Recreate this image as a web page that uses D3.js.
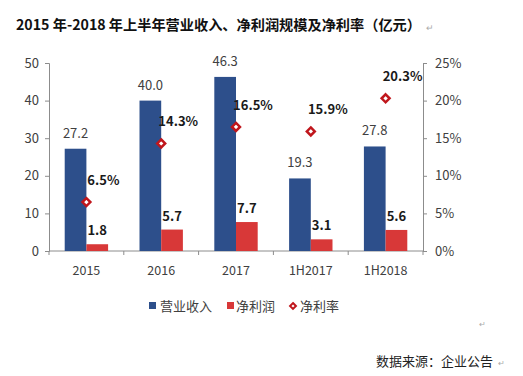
<!DOCTYPE html>
<html>
<head>
<meta charset="utf-8">
<script src="https://cdn.jsdelivr.net/npm/d3@7"></script>
<style>
  body { margin: 0; background: #fff; }
  svg { font-family: "Noto Sans CJK SC", "Noto Sans", sans-serif; }
</style>
</head>
<body>
<div id="chart"></div>
<script>
// chart data
var categories = ["2015", "2016", "2017", "1H2017", "1H2018"];
var revenue = [27.2, 40.0, 46.3, 19.3, 27.8];
var profit = [1.8, 5.7, 7.7, 3.1, 5.6];
var margin = [6.5, 14.3, 16.5, 15.9, 20.3];
var leftTicks = [0, 10, 20, 30, 40, 50];
var rightTicks = [0, 5, 10, 15, 20, 25];

var w = 523, h = 376;
var plotLeft = 49, plotRight = 423, plotTop = 63, plotBottom = 251;

var blue = "#2d4f8b", red = "#d83838", dark = "#c0161c";

var svg = d3.select("#chart").append("svg")
    .attr("width", w)
    .attr("height", h);

// title
var title = svg.append("text")
    .attr("x", 16).attr("y", 30)
    .attr("font-size", 14.2).attr("font-weight", "bold").attr("fill", "#111")
    .text("2015 年-2018 年上半年营业收入、净利润规模及净利率（亿元）");
var titleLen = title.node().getComputedTextLength();
svg.append("text")
    .attr("x", 16 + titleLen + 5).attr("y", 31)
    .attr("font-size", 9).attr("fill", "#aaa")
    .text("↵");

var x = d3.scaleBand().domain(categories).range([plotLeft, plotRight]);
var y = d3.scaleLinear().domain([0, 50]).range([plotBottom, plotTop]);
var y2 = d3.scaleLinear().domain([0, 25]).range([plotBottom, plotTop]);
var barW = x.bandwidth() * 0.29;

// axes
var axisColor = "#8c8c8c";
var gl = svg.append("g")
    .attr("transform", "translate(" + plotLeft + ",0)")
    .call(d3.axisLeft(y).tickValues(leftTicks).tickSize(4).tickPadding(6));
var gr = svg.append("g")
    .attr("transform", "translate(" + plotRight + ",0)")
    .call(d3.axisRight(y2).tickValues(rightTicks).tickSize(4).tickPadding(8)
        .tickFormat(d => d + "%"));
[gl, gr].forEach(g => {
    g.select(".domain").attr("stroke", axisColor);
    g.selectAll(".tick line").attr("stroke", axisColor);
    g.selectAll("text").attr("font-size", 13).attr("fill", "#404040")
        .attr("font-family", "Noto Sans CJK SC");
});

// x axis with ticks between categories
var gx = svg.append("g").attr("transform", "translate(0," + plotBottom + ")");
gx.append("line").attr("x1", plotLeft).attr("x2", plotRight).attr("stroke", axisColor);
gx.selectAll(".sep")
    .data(categories.concat(["end"]))
    .enter().append("line")
    .attr("x1", (d, i) => plotLeft + i * x.step())
    .attr("x2", (d, i) => plotLeft + i * x.step())
    .attr("y1", 0).attr("y2", 4)
    .attr("stroke", axisColor);
gx.selectAll(".lab")
    .data(categories)
    .enter().append("text")
    .attr("x", d => x(d) + x.bandwidth() / 2)
    .attr("y", 24)
    .attr("text-anchor", "middle")
    .attr("font-size", 12.5).attr("fill", "#404040")
    .text(d => d);

// revenue bars
svg.selectAll(".rev")
    .data(revenue)
    .enter().append("rect")
    .attr("x", (d, i) => x(categories[i]) + x.bandwidth() / 2 - barW)
    .attr("y", d => y(d))
    .attr("width", barW)
    .attr("height", d => y(0) - y(d))
    .attr("fill", blue);

// profit bars
svg.selectAll(".pro")
    .data(profit)
    .enter().append("rect")
    .attr("x", (d, i) => x(categories[i]) + x.bandwidth() / 2)
    .attr("y", d => y(d))
    .attr("width", barW)
    .attr("height", d => y(0) - y(d))
    .attr("fill", red);

// value labels
svg.selectAll(".revlab")
    .data(revenue)
    .enter().append("text")
    .attr("x", (d, i) => x(categories[i]) + x.bandwidth() / 2 - barW / 2)
    .attr("y", d => y(d) - 11)
    .attr("text-anchor", "middle")
    .attr("font-size", 13).attr("fill", "#404040")
    .text(d => d.toFixed(1));

svg.selectAll(".prolab")
    .data(profit)
    .enter().append("text")
    .attr("x", (d, i) => x(categories[i]) + x.bandwidth() / 2 + barW / 2)
    .attr("y", d => y(d) - 9)
    .attr("text-anchor", "middle")
    .attr("font-size", 13).attr("font-weight", "bold").attr("fill", "#1a1a1a")
    .text(d => d.toFixed(1));

// margin markers
var diamond = d3.symbol().type(d3.symbolDiamond2).size(40);
svg.selectAll(".mar")
    .data(margin)
    .enter().append("path")
    .attr("d", diamond)
    .attr("transform", (d, i) => "translate(" + (x(categories[i]) + x.bandwidth() / 2) + "," + y2(d) + ")")
    .attr("fill", "#fff")
    .attr("stroke", dark)
    .attr("stroke-width", 2.5);

svg.selectAll(".marlab")
    .data(margin)
    .enter().append("text")
    .attr("x", (d, i) => x(categories[i]) + x.bandwidth() / 2 + 17)
    .attr("y", d => y2(d) - 17)
    .attr("text-anchor", "middle")
    .attr("font-size", 13).attr("font-weight", "bold").attr("fill", "#1a1a1a")
    .text(d => d.toFixed(1) + "%");

// legend
var legend = svg.append("g").attr("transform", "translate(0,306)");
legend.append("rect").attr("x", 149).attr("y", -4).attr("width", 7).attr("height", 7).attr("fill", blue);
legend.append("text").attr("x", 160).attr("y", 4.5).attr("font-size", 13).attr("fill", "#404040").text("营业收入");
legend.append("rect").attr("x", 227).attr("y", -4).attr("width", 7).attr("height", 7).attr("fill", red);
legend.append("text").attr("x", 236).attr("y", 4.5).attr("font-size", 13).attr("fill", "#404040").text("净利润");
legend.append("path").attr("d", d3.symbol().type(d3.symbolDiamond2).size(22))
    .attr("transform", "translate(293,0)")
    .attr("fill", "#fff").attr("stroke", dark).attr("stroke-width", 2);
legend.append("text").attr("x", 300).attr("y", 4.5).attr("font-size", 13).attr("fill", "#404040").text("净利率");

// source note
svg.append("text").attr("x", 479).attr("y", 327).attr("font-size", 8).attr("fill", "#aaa").text("↵");
svg.append("text")
    .attr("x", 376).attr("y", 366)
    .attr("font-size", 13).attr("fill", "#222")
    .text("数据来源：企业公告");
svg.append("text").attr("x", 498).attr("y", 366).attr("font-size", 8).attr("fill", "#aaa").text("↵");
</script>
</body>
</html>
